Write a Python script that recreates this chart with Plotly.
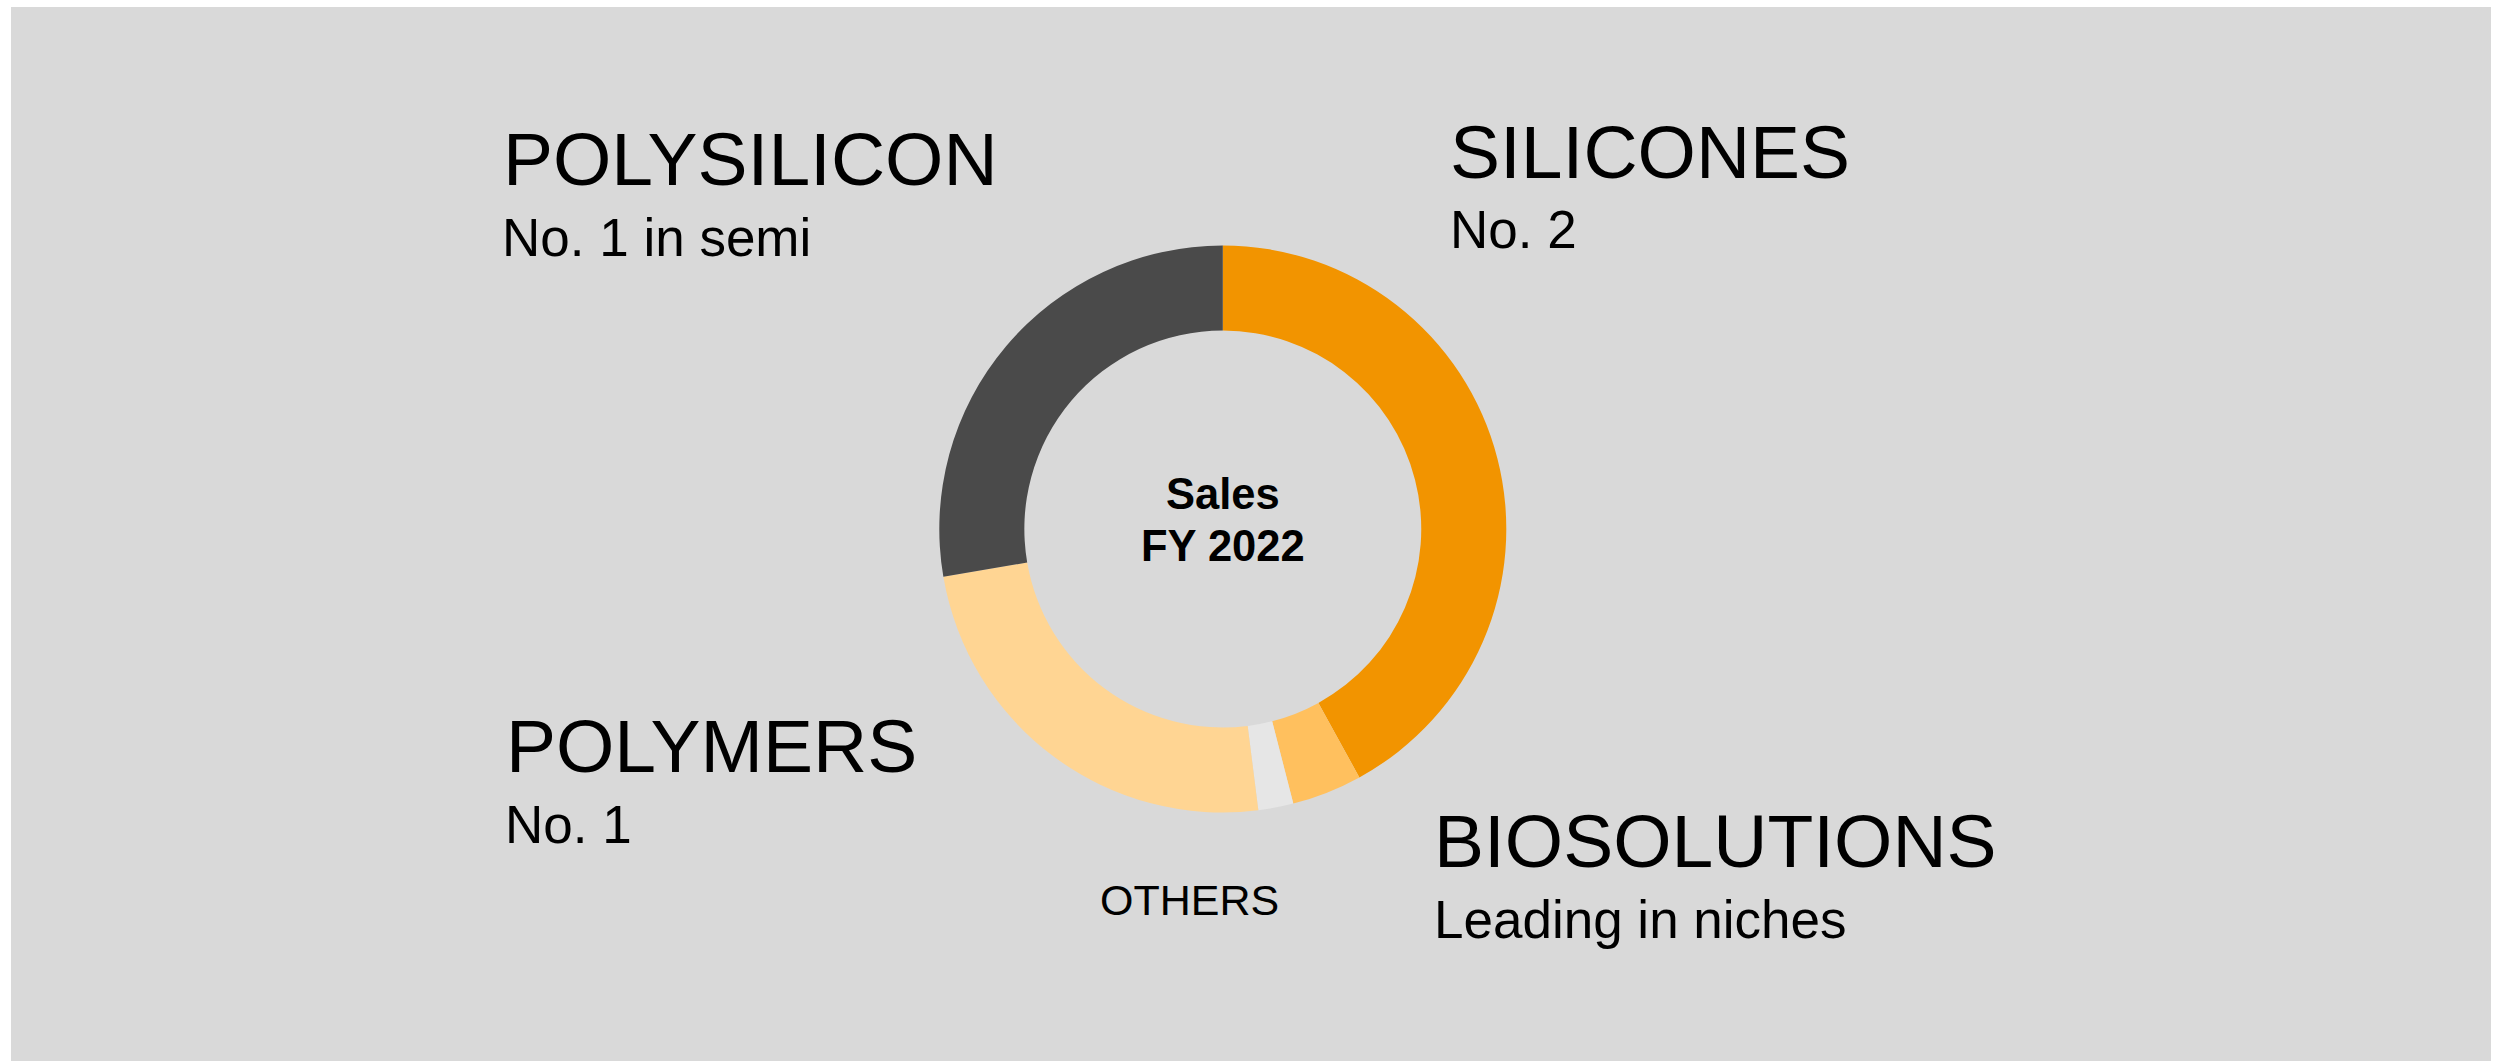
import plotly.graph_objects as go

# ---- data ----
segments = ["SILICONES", "BIOSOLUTIONS", "OTHERS", "POLYMERS", "POLYSILICON"]
shares = [42.0, 4.0, 2.0, 24.3, 27.7]
colors = ["#F29400", "#FFC05E", "#E6E6E6", "#FFD593", "#4A4A4A"]
center_lines = ["Sales", "FY 2022"]
taglines = {"POLYSILICON": "No. 1 in semi", "SILICONES": "No. 2",
            "POLYMERS": "No. 1", "BIOSOLUTIONS": "Leading in niches"}

W, H = 2495, 1061
ML, MR, MT, MB = 11, 4, 7, 0
PW, PH = W - ML - MR, H - MT - MB

def px(x):
    return (x - ML) / PW

def py(y):
    return 1 - (y - MT) / PH

cx, cy, R = 1222.8, 529, 283.5

fig = go.Figure()
fig.add_trace(go.Pie(
    labels=segments, values=shares, sort=False, direction="clockwise",
    rotation=0, hole=0.70, textinfo="none", hoverinfo="skip",
    marker=dict(colors=colors, line=dict(width=0)),
    domain=dict(x=[px(cx - R), px(cx + R)], y=[py(cy + R), py(cy - R)]),
    showlegend=False,
))

FONT = "Liberation Sans, Arial, sans-serif"
ann = []

def add(text, x, y, size, xanchor="left", bold=False):
    t = f"<b>{text}</b>" if bold else text
    ann.append(dict(text=t, x=px(x), y=py(y), xref="paper", yref="paper",
                    xanchor=xanchor, yanchor="middle", showarrow=False,
                    font=dict(family=FONT, size=size, color="#000000")))

BIG, SUB = 75, 53
add("POLYSILICON", 501, 159.5, BIG)
add(taglines["POLYSILICON"], 500, 237.5, SUB)
add("SILICONES", 1448, 151.5, BIG)
add(taglines["SILICONES"], 1448, 229, SUB)
add("POLYMERS", 504, 745.5, BIG)
add(taglines["POLYMERS"], 503, 824, SUB)
add("BIOSOLUTIONS", 1432, 841.2, BIG)
add(taglines["BIOSOLUTIONS"], 1432, 919.7, SUB)
add("OTHERS", 1189.5, 900.3, 43, xanchor="center")
add(center_lines[0], 1223.2, 493.8, 43.5, xanchor="center", bold=True)
add(center_lines[1], 1223.2, 545.6, 43.5, xanchor="center", bold=True)

fig.update_layout(
    width=W, height=H,
    margin=dict(l=ML, r=MR, t=MT, b=MB, pad=0),
    paper_bgcolor="#FFFFFF",
    plot_bgcolor="#D9D9D9",
    annotations=ann,
    shapes=[dict(type="rect", xref="paper", yref="paper", x0=0, x1=1, y0=0, y1=1,
                 fillcolor="#D9D9D9", line=dict(width=0), layer="below")],
)

fig.write_html("out.html", config={"displayModeBar": False},
               post_script="document.body.style.margin='0';")
